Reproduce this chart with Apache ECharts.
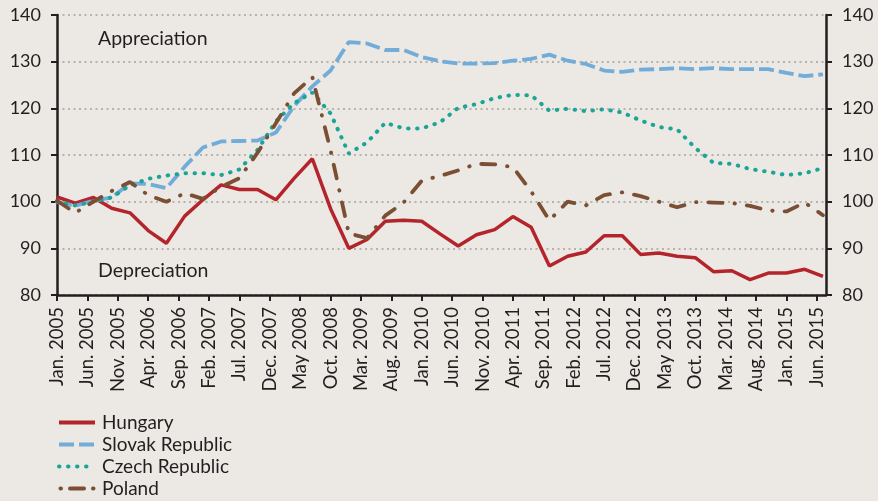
<!DOCTYPE html>
<html>
<head>
<meta charset="utf-8">
<script src="https://cdn.jsdelivr.net/npm/echarts@6/dist/echarts.min.js"></script>
<style>
  html, body { margin: 0; padding: 0; background: #ece8e4; }
  #chart { width: 878px; height: 501px; }
</style>
</head>
<body>
<div id="chart"></div>
<script>
// tick labels, one every 5 months starting Jan. 2005
var tickLabels = ['Jan. 2005', 'Jun. 2005', 'Nov. 2005', 'Apr. 2006', 'Sep. 2006', 'Feb. 2007',
    'Jul. 2007', 'Dec. 2007', 'May 2008', 'Oct. 2008', 'Mar. 2009', 'Aug. 2009', 'Jan. 2010',
    'Jun. 2010', 'Nov. 2010', 'Apr. 2011', 'Sep. 2011', 'Feb. 2012', 'Jul. 2012', 'Dec. 2012',
    'May 2013', 'Oct. 2013', 'Mar. 2014', 'Aug. 2014', 'Jan. 2015', 'Jun. 2015'];

// quarterly values (index 2005 = 100)
var hungary = [101.0, 99.7, 100.9, 98.6, 97.6, 93.8, 91.1, 96.9, 100.4, 103.6, 102.6, 102.6, 100.4,
    105.0, 109.2, 98.5, 90.0, 91.9, 95.8, 96.0, 95.8, 93.1, 90.5, 92.9, 94.0, 96.8, 94.5, 86.2,
    88.3, 89.2, 92.7, 92.7, 88.7, 89.0, 88.3, 88.0, 85.0, 85.2, 83.3, 84.7, 84.7, 85.5, 84.0];
var slovak = [99.9, 99.1, 100.2, 100.9, 103.9, 103.8, 102.9, 107.5, 111.6, 112.9, 113.0, 113.1, 114.8,
    120.5, 124.7, 128.1, 134.2, 133.9, 132.5, 132.5, 131.0, 130.1, 129.6, 129.6, 129.7, 130.2, 130.6,
    131.5, 130.2, 129.5, 128.1, 127.8, 128.3, 128.4, 128.6, 128.4, 128.6, 128.4, 128.4, 128.4, 127.6,
    126.9, 127.3];
var czech = [100.0, 99.2, 100.0, 100.9, 103.5, 104.9, 105.6, 106.1, 106.1, 105.7, 106.9, 111.1, 117.2,
    121.1, 123.4, 118.9, 110.3, 112.7, 116.9, 115.7, 115.7, 117.0, 120.1, 120.9, 122.2, 122.9, 122.8,
    119.5, 119.9, 119.4, 119.8, 119.1, 117.4, 116.0, 115.5, 111.5, 108.3, 108.1, 107.0, 106.4, 105.7,
    106.1, 107.2];
var poland = [100.2, 97.6, 100.0, 102.3, 104.2, 101.4, 100.0, 101.8, 100.6, 103.2, 105.0, 110.5, 116.8,
    123.2, 126.7, 111.0, 93.2, 92.2, 97.0, 99.8, 104.5, 105.5, 106.7, 108.1, 108.0, 107.4, 102.2,
    96.0, 100.0, 99.2, 101.4, 102.0, 101.2, 100.0, 98.8, 99.9, 99.8, 99.7, 99.1, 98.1, 97.9, 99.8, 97.1];

var seriesNames = ['Hungary', 'Slovak Republic', 'Czech Republic', 'Poland'];

// months since Jan. 2005 for each quarterly observation
function withMonths(values) {
    return values.map(function (v, i) { return [i * 3, v]; });
}

var textColor = '#231f20';
var fontFamily = 'Lato, "Open Sans", sans-serif';

var chart = echarts.init(document.getElementById('chart'));
var option = {
    backgroundColor: '#ece8e4',
    animation: false,
    textStyle: { fontFamily: fontFamily, color: textColor },
    grid: { left: 57, right: 52, top: 15, bottom: 206 },
    legend: {
        orient: 'vertical',
        left: 57,
        top: 413,
        padding: 0,
        itemWidth: 36,
        itemHeight: 14,
        itemGap: 3,
        itemStyle: { opacity: 0 },
        lineStyle: { width: 4 },
        textStyle: { fontSize: 19, lineHeight: 19, color: textColor, fontFamily: fontFamily, padding: [0, 0, 0, 2] },
        data: [
            seriesNames[0],
            seriesNames[1],
            seriesNames[2],
            // dot - dash - dot, as in the original key
            { name: seriesNames[3], lineStyle: { type: [0.5, 9, 14, 9, 0.5, 20], cap: 'round', dashOffset: -1.5 } }
        ]
    },
    graphic: [
        { type: 'text', left: 98, top: 29, style: { text: 'Appreciation', fontSize: 19.5, fontFamily: fontFamily, fill: textColor } },
        { type: 'text', left: 98, top: 261, style: { text: 'Depreciation', fontSize: 19.5, fontFamily: fontFamily, fill: textColor } }
    ],
    xAxis: {
        type: 'value',
        min: 0,
        max: 126.5,
        interval: 5,
        axisLine: { lineStyle: { color: textColor, width: 2.5 } },
        axisTick: { length: 6, lineStyle: { color: textColor, width: 2 } },
        splitLine: { show: false },
        axisLabel: {
            rotate: 90,
            margin: 12,
            fontSize: 18.5,
            color: textColor,
            padding: [8, 0, 0, 0],
            showMaxLabel: false,
            formatter: function (v) {
                var k = v / 5;
                return (k === Math.round(k) && tickLabels[k]) ? tickLabels[k] : '';
            }
        }
    },
    yAxis: [{
        type: 'value',
        min: 80,
        max: 140,
        interval: 10,
        axisLine: { show: true, lineStyle: { color: textColor, width: 2.5 } },
        axisTick: { show: true, length: 6, lineStyle: { color: textColor, width: 2 } },
        axisLabel: { fontSize: 18, color: textColor, margin: 16 },
        splitLine: { lineStyle: { color: '#a3a09d', width: 1.5, type: [2, 3.5] } }
    }, {
        type: 'value',
        position: 'right',
        min: 80,
        max: 140,
        interval: 10,
        axisLine: { show: true, lineStyle: { color: textColor, width: 2.5 } },
        axisTick: { show: true, length: 6, lineStyle: { color: textColor, width: 2 } },
        axisLabel: { fontSize: 18, color: textColor, margin: 16 },
        splitLine: { show: false }
    }],
    series: [
        {
            name: seriesNames[0], type: 'line', symbol: 'none', data: withMonths(hungary),
            color: '#b3252b',
            lineStyle: { color: '#b3252b', width: 3.5 }
        },
        {
            name: seriesNames[1], type: 'line', symbol: 'none', data: withMonths(slovak),
            color: '#72acd9',
            lineStyle: { color: '#72acd9', width: 3.8, type: [15, 5] }
        },
        {
            name: seriesNames[2], type: 'line', symbol: 'none', data: withMonths(czech),
            color: '#1ba597',
            lineStyle: { color: '#1ba597', width: 4, type: [0.5, 8.5], cap: 'round' }
        },
        {
            name: seriesNames[3], type: 'line', symbol: 'none', data: withMonths(poland),
            color: '#7b4f33',
            lineStyle: { color: '#7b4f33', width: 3.8, type: [14, 12, 0.5, 12], cap: 'round' }
        }
    ]
};
chart.setOption(option);
</script>
</body>
</html>
